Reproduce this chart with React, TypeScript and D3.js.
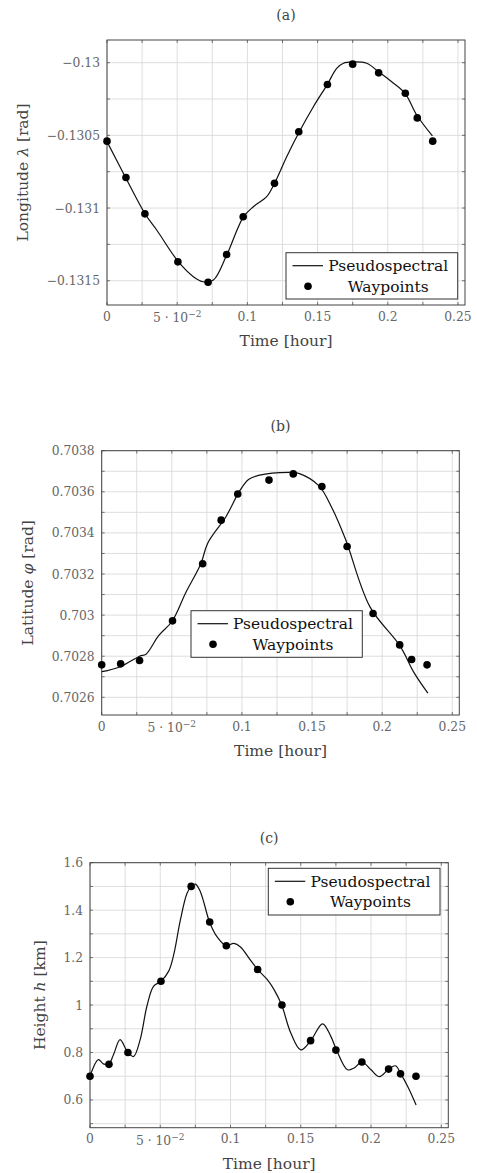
import React from "react";
import * as d3 from "d3";

// ---------- data ----------
const waypointTime = [0, 0.0135, 0.027, 0.0505, 0.072, 0.0852, 0.097, 0.1193, 0.1366, 0.157, 0.175, 0.1935, 0.2125, 0.221, 0.232];
const waypointLon = [-0.13054, -0.13079, -0.13104, -0.13137, -0.13151, -0.13132, -0.13106, -0.13083, -0.130475, -0.13015, -0.13001, -0.13007, -0.13021, -0.13038, -0.13054];
const waypointLat = [0.702758, 0.702763, 0.702779, 0.702972, 0.70325, 0.703462, 0.703589, 0.703657, 0.703687, 0.703626, 0.703334, 0.703008, 0.702855, 0.702784, 0.702758];
const waypointHeight = [0.70, 0.75, 0.80, 1.10, 1.50, 1.35, 1.25, 1.15, 1.00, 0.85, 0.81, 0.76, 0.73, 0.71, 0.70];

const lonCurveTime = [0, 0.0135, 0.0273, 0.0354, 0.0508, 0.0615, 0.0686, 0.0758, 0.0852, 0.0971, 0.1042, 0.1137, 0.1192, 0.128, 0.1368, 0.147, 0.157, 0.1636, 0.1684, 0.175, 0.185, 0.1933, 0.2028, 0.2123, 0.2206, 0.2318];
const lonCurve = [-0.130543, -0.130795, -0.131043, -0.131151, -0.131369, -0.131472, -0.131507, -0.131495, -0.131325, -0.131062, -0.130991, -0.130922, -0.130832, -0.130647, -0.130479, -0.130303, -0.130149, -0.130039, -0.130004, -0.129995, -0.130004, -0.130062, -0.130131, -0.130211, -0.13036, -0.130504];

const latCurveTime = [0, 0.004, 0.0136, 0.027, 0.0316, 0.0406, 0.0502, 0.06, 0.0707, 0.0756, 0.0887, 0.098, 0.1047, 0.1118, 0.1333, 0.1405, 0.1548, 0.1643, 0.1738, 0.1913, 0.2127, 0.2227, 0.2326];
const latCurve = [0.702725, 0.70273, 0.70275, 0.7028, 0.70281, 0.7029, 0.70297, 0.70311, 0.70325, 0.70335, 0.70348, 0.7036, 0.70366, 0.70368, 0.703695, 0.70369, 0.70363, 0.70352, 0.70337, 0.70304, 0.70285, 0.70272, 0.70262];

const heightCurveTime = [0, 0.006, 0.0095, 0.0133, 0.0167, 0.0214, 0.0269, 0.031, 0.0357, 0.0405, 0.0452, 0.0505, 0.056, 0.0595, 0.0643, 0.069, 0.0721, 0.075, 0.0786, 0.0852, 0.0905, 0.0969, 0.1024, 0.1071, 0.1143, 0.1193, 0.1262, 0.131, 0.1364, 0.1429, 0.15, 0.1571, 0.1655, 0.1714, 0.1755, 0.1833, 0.188, 0.1936, 0.2, 0.206, 0.2126, 0.2174, 0.2212, 0.2262, 0.2321];
const heightCurve = [0.70, 0.77, 0.752, 0.751, 0.79, 0.854, 0.80, 0.783, 0.854, 0.995, 1.079, 1.10, 1.143, 1.21, 1.358, 1.47, 1.50, 1.51, 1.477, 1.348, 1.287, 1.25, 1.26, 1.245, 1.188, 1.15, 1.107, 1.065, 1.0, 0.882, 0.811, 0.85, 0.921, 0.868, 0.81, 0.727, 0.735, 0.76, 0.727, 0.698, 0.73, 0.744, 0.71, 0.656, 0.579];

const xTickValues = [0, 0.05, 0.1, 0.15, 0.2, 0.25];
const xTickLabels = ["0", "5 · 10|−2", "0.1", "0.15", "0.2", "0.25"];

const lonTicks = [-0.13, -0.1305, -0.131, -0.1315];
const lonTickLabels = ["−0.13", "−0.1305", "−0.131", "−0.1315"];
const latTicks = [0.7038, 0.7036, 0.7034, 0.7032, 0.703, 0.7028, 0.7026];
const latTickLabels = ["0.7038", "0.7036", "0.7034", "0.7032", "0.703", "0.7028", "0.7026"];
const heightTicks = [1.6, 1.4, 1.2, 1.0, 0.8, 0.6];
const heightTickLabels = ["1.6", "1.4", "1.2", "1", "0.8", "0.6"];

const legendLabels = ["Pseudospectral", "Waypoints"];

// ---------- layout ----------
const FONT = "'DejaVu Serif', 'Liberation Serif', serif";

type PanelCfg = {
  title: string;
  ylabel: [string, string, string];
  left: number; right: number; top: number; bottom: number;
  yDomain: [number, number];
  yTicks: number[]; yTickLabels: string[];
  yGridStep: number; yGridBase: number;
  curveT: number[]; curveV: number[];
  wpV: number[];
  legend: { x: number; y: number; w: number; h: number };
  ylabelX: number;
};

const panels: PanelCfg[] = [
  {
    title: "(a)", ylabel: ["Longitude ", "λ", " [rad]"],
    left: 107, right: 465, top: 40, bottom: 305,
    yDomain: [-0.131667, -0.129844],
    yTicks: lonTicks, yTickLabels: lonTickLabels,
    yGridStep: 0.00025, yGridBase: -0.1315,
    curveT: lonCurveTime, curveV: lonCurve, wpV: waypointLon,
    legend: { x: 286, y: 252.7, w: 171.7, h: 46.3 },
    ylabelX: 28,
  },
  {
    title: "(b)", ylabel: ["Latitude ", "φ", " [rad]"],
    left: 101.7, right: 459.3, top: 450.7, bottom: 715,
    yDomain: [0.702514, 0.7038],
    yTicks: latTicks, yTickLabels: latTickLabels,
    yGridStep: 0.0001, yGridBase: 0.7026,
    curveT: latCurveTime, curveV: latCurve, wpV: waypointLat,
    legend: { x: 191, y: 610.7, w: 171.3, h: 46.6 },
    ylabelX: 33,
  },
  {
    title: "(c)", ylabel: ["Height ", "h", " [km]"],
    left: 90, right: 448.3, top: 862.7, bottom: 1127.7,
    yDomain: [0.483, 1.6],
    yTicks: heightTicks, yTickLabels: heightTickLabels,
    yGridStep: 0.1, yGridBase: 0.5,
    curveT: heightCurveTime, curveV: heightCurve, wpV: waypointHeight,
    legend: { x: 268.3, y: 868.3, w: 171.7, h: 46.7 },
    ylabelX: 45,
  },
];

function Panel({ p }: { p: PanelCfg }) {
  const x = d3.scaleLinear().domain([0, 0.255]).range([p.left, p.right]);
  const y = d3.scaleLinear().domain(p.yDomain).range([p.bottom, p.top]);

  const xGrid = d3.range(0, 11).map((i) => i * 0.025);
  const yGrid: number[] = [];
  for (let i = -2; i < 40; i++) {
    const v = p.yGridBase + i * p.yGridStep;
    if (v >= p.yDomain[0] - 1e-9 && v <= p.yDomain[1] + 1e-9) yGrid.push(v);
  }

  const line = d3
    .line<number>()
    .x((_, i) => x(p.curveT[i]))
    .y((d) => y(d))
    .curve(d3.curveCatmullRom.alpha(0.5));

  const cx = (p.left + p.right) / 2;
  const cy = (p.top + p.bottom) / 2;
  const L = p.legend;
  const textCenter = L.x + L.w * 0.595;

  return (
    <g>
      <text x={cx} y={p.top - 20} textAnchor="middle" fontFamily={FONT} fontSize={14} fill="#444">
        {p.title}
      </text>
      {/* grid */}
      {xGrid.map((g, i) => (
        <line key={"xg" + i} x1={x(g)} x2={x(g)} y1={p.top} y2={p.bottom} stroke="#d6d6d6" strokeWidth={0.8} />
      ))}
      {yGrid.map((g, i) => (
        <line key={"yg" + i} x1={p.left} x2={p.right} y1={y(g)} y2={y(g)} stroke="#d6d6d6" strokeWidth={0.8} />
      ))}
      {/* tick marks */}
      {xGrid.map((g, i) => (
        <g key={"xt" + i}>
          <line x1={x(g)} x2={x(g)} y1={p.bottom} y2={p.bottom - 3} stroke="#555" strokeWidth={0.8} />
          <line x1={x(g)} x2={x(g)} y1={p.top} y2={p.top + 3} stroke="#555" strokeWidth={0.8} />
        </g>
      ))}
      {yGrid.map((g, i) => (
        <g key={"yt" + i}>
          <line x1={p.left} x2={p.left + 3} y1={y(g)} y2={y(g)} stroke="#555" strokeWidth={0.8} />
          <line x1={p.right} x2={p.right - 3} y1={y(g)} y2={y(g)} stroke="#555" strokeWidth={0.8} />
        </g>
      ))}
      {/* frame */}
      <rect x={p.left} y={p.top} width={p.right - p.left} height={p.bottom - p.top} fill="none" stroke="#444" strokeWidth={1} />
      {/* y tick labels */}
      {p.yTicks.map((t, i) => (
        <text key={"yl" + i} x={p.left - 7} y={y(t) + 4.5} textAnchor="end" fontFamily={FONT} fontSize={12.3} fill="#666">
          {p.yTickLabels[i]}
        </text>
      ))}
      {/* x tick labels */}
      {xTickValues.map((t, i) => {
        const lab = xTickLabels[i];
        if (lab.includes("|")) {
          const [base, sup] = lab.split("|");
          return (
            <text key={"xl" + i} x={x(t)} y={p.bottom + 17} textAnchor="middle" fontFamily={FONT} fontSize={12.3} fill="#666">
              {base}
              <tspan dy={-5} fontSize={9}>{sup}</tspan>
            </text>
          );
        }
        return (
          <text key={"xl" + i} x={x(t)} y={p.bottom + 15.5} textAnchor="middle" fontFamily={FONT} fontSize={12.3} fill="#666">
            {lab}
          </text>
        );
      })}
      {/* axis labels */}
      <text x={cx} y={p.bottom + 41} textAnchor="middle" fontFamily={FONT} fontSize={15.5} fill="#444">
        Time [hour]
      </text>
      <text
        transform={`translate(${p.ylabelX},${cy}) rotate(-90)`}
        textAnchor="middle"
        fontFamily={FONT}
        fontSize={15.5}
        fill="#444"
      >
        {p.ylabel[0]}
        <tspan fontStyle="italic">{p.ylabel[1]}</tspan>
        {p.ylabel[2]}
      </text>
      {/* curve */}
      <path d={line(p.curveV) || ""} fill="none" stroke="#111" strokeWidth={1.2} />
      {/* waypoints */}
      {waypointTime.map((t, i) => (
        <circle key={"wp" + i} cx={x(t)} cy={y(p.wpV[i])} r={3.8} fill="#000" />
      ))}
      {/* legend */}
      <rect x={L.x} y={L.y} width={L.w} height={L.h} fill="#fff" stroke="#333" strokeWidth={1} />
      <line x1={L.x + 6.5} x2={L.x + 37} y1={L.y + 13} y2={L.y + 13} stroke="#111" strokeWidth={1.2} />
      <circle cx={L.x + 22} cy={L.y + 33.5} r={3.8} fill="#000" />
      <text x={textCenter} y={L.y + 18.5} textAnchor="middle" fontFamily={FONT} fontSize={15.5} fill="#111">
        {legendLabels[0]}
      </text>
      <text x={textCenter} y={L.y + 39} textAnchor="middle" fontFamily={FONT} fontSize={15.5} fill="#111">
        {legendLabels[1]}
      </text>
    </g>
  );
}

export default function App() {
  return (
    <div style={{ position: "absolute", left: 0, top: 0 }}>
      <svg width={477} height={1173} style={{ display: "block", background: "#fff" }}>
        {panels.map((p, i) => (
          <Panel key={i} p={p} />
        ))}
      </svg>
    </div>
  );
}
